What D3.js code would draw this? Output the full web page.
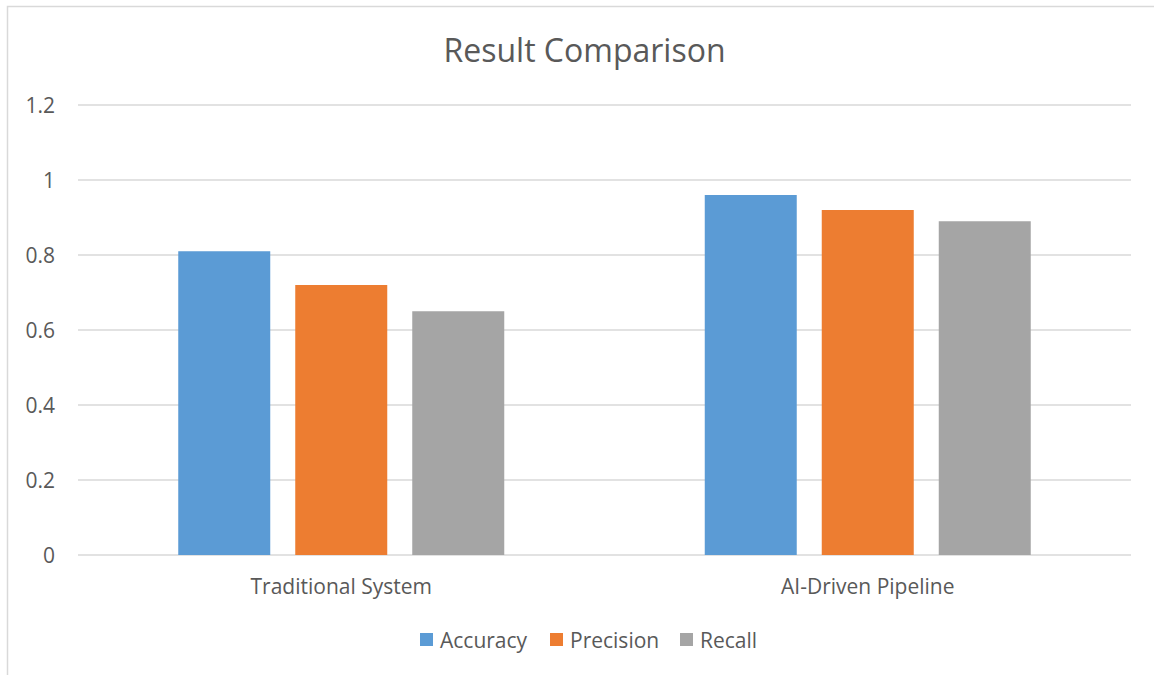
<!DOCTYPE html>
<html><head><meta charset="utf-8">
<script src="https://cdn.jsdelivr.net/npm/d3@7/dist/d3.min.js"></script>
<style>body{margin:0;background:#fff}svg{display:block}</style>
</head><body>
<script>
const categories = ["Traditional System", "AI-Driven Pipeline"];
const seriesNames = ["Accuracy", "Precision", "Recall"];
const accuracy = [0.81, 0.96];
const precision = [0.72, 0.92];
const recall = [0.65, 0.89];
const yTicks = [0, 0.2, 0.4, 0.6, 0.8, 1, 1.2];
const colors = ["#5B9BD5", "#ED7D31", "#A5A5A5"];
const seriesValues = [accuracy, precision, recall];

(function () {
const W = 1154, H = 675;
const font = "'Open Sans', sans-serif";
const textCol = "#595959";
const svg = d3.select("body").append("svg").attr("width", W).attr("height", H);

// chart border
svg.append("rect").attr("x", 7.5).attr("y", 6.5).attr("width", W + 10).attr("height", H + 10)
  .attr("fill", "none").attr("stroke", "#D9D9D9").attr("stroke-width", 1.5);

const pLeft = 78, pRight = 1131, pTop = 105, pBottom = 555;
const y = d3.scaleLinear().domain([0, 1.2]).range([pBottom, pTop]);
const x0 = d3.scaleBand().domain(categories).range([pLeft, pRight]).padding(0);
const groupW = 326;
const x1 = d3.scaleBand().domain(seriesNames).range([0, groupW]).paddingInner(0.2137).paddingOuter(0);

// gridlines
svg.append("g").selectAll("line").data(yTicks).join("line")
  .attr("x1", pLeft).attr("x2", pRight)
  .attr("y1", d => y(d)).attr("y2", d => y(d))
  .attr("stroke", "#D9D9D9").attr("stroke-width", 1.3);

// y tick labels
svg.append("g").selectAll("text").data(yTicks).join("text")
  .attr("x", 55).attr("y", d => y(d)).attr("dy", "0.36em")
  .attr("text-anchor", "end").attr("font-family", font).attr("font-size", 21)
  .attr("fill", textCol).text(d => d3.format("")(d));

// bars
const groups = svg.append("g").selectAll("g").data(categories).join("g")
  .attr("transform", c => `translate(${x0(c) + (x0.bandwidth() - groupW) / 2},0)`);
groups.selectAll("rect").data((c, i) => seriesNames.map((s, j) => ({s, j, v: seriesValues[j][i]})))
  .join("rect")
  .attr("x", d => x1(d.s)).attr("width", x1.bandwidth())
  .attr("y", d => y(d.v)).attr("height", d => y(0) - y(d.v))
  .attr("fill", d => colors[d.j]);

// category labels
svg.append("g").selectAll("text").data(categories).join("text")
  .attr("x", c => x0(c) + x0.bandwidth() / 2).attr("y", 586).attr("dy", "0.36em")
  .attr("text-anchor", "middle").attr("font-family", font).attr("font-size", 21)
  .attr("fill", textCol).text(c => c);

// title
svg.append("text").attr("x", 584.5).attr("y", 50).attr("dy", "0.36em")
  .attr("text-anchor", "middle").attr("font-family", font).attr("font-size", 32)
  .attr("fill", textCol).text("Result Comparison");

// legend
const legendX = [420, 550, 680];
const lg = svg.append("g").selectAll("g").data(seriesNames).join("g")
  .attr("transform", (d, i) => `translate(${legendX[i]},633)`);
lg.append("rect").attr("width", 13).attr("height", 13).attr("fill", (d, i) => colors[i]);
lg.append("text").attr("x", 20).attr("y", 7).attr("dy", "0.36em")
  .attr("font-family", font).attr("font-size", 21).attr("fill", textCol).text(d => d);
})();
</script>
</body></html>
